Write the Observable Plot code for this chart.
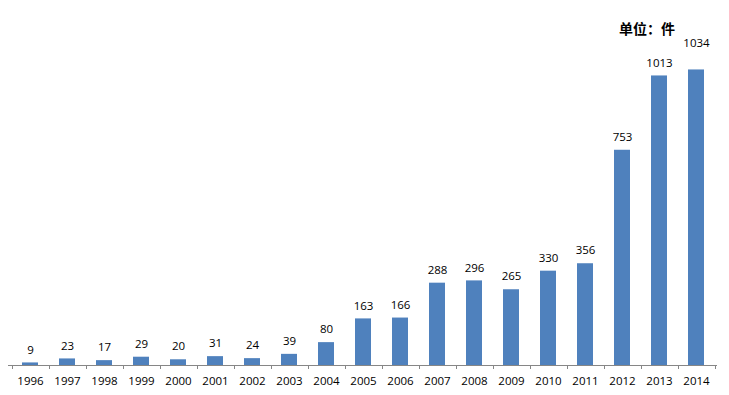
<!DOCTYPE html>
<html>
<head>
<meta charset="utf-8">
<script src="https://cdn.jsdelivr.net/npm/d3@7"></script>
<script src="https://cdn.jsdelivr.net/npm/@observablehq/plot@0.6"></script>
<style>
  html, body { margin: 0; padding: 0; background: #fff; }
  #chart { position: relative; width: 729px; height: 395px; }
  #unit { position: absolute; left: 619px; top: 18px; font: bold 14px "Noto Sans CJK SC", sans-serif; color: #000; }
</style>
</head>
<body>
<div id="chart"><div id="unit">单位：件</div></div>
<script>
const years = ["1996","1997","1998","1999","2000","2001","2002","2003","2004","2005","2006","2007","2008","2009","2010","2011","2012","2013","2014"];
const counts = [9,23,17,29,20,31,24,39,80,163,166,288,296,265,330,356,753,1013,1034];
const yDomain = [0, 1200];

const data = years.map((y, i) => ({year: y, value: counts[i]}));
const last = years[years.length - 1];

const chart = Plot.plot({
  width: 729,
  height: 395,
  marginLeft: 8,
  marginRight: 12,
  marginTop: 22,
  marginBottom: 30,
  style: {fontFamily: "'Open Sans', sans-serif", fontSize: "11px", color: "#000", background: "#fff"},
  x: {domain: years, paddingInner: 0.57, paddingOuter: 0.285, axis: null},
  y: {domain: yDomain, axis: null},
  marks: [
    Plot.barY(data, {x: "year", y: "value", fill: "#4F81BD"}),
    Plot.ruleY([0], {stroke: "#868686", strokeWidth: 1}),
    Plot.text(data.filter(d => d.year !== last), {x: "year", y: "value", text: d => String(d.value), dy: -13, fill: "#000", fontSize: 11.5}),
    Plot.text(data.filter(d => d.year === last), {x: "year", y: "value", text: d => String(d.value), dy: -27, fill: "#000", fontSize: 11.5}),
    Plot.axisX({tickSize: 0, tickPadding: 11, fontSize: 11.5, fill: "#000", label: null})
  ]
});

// boundary ticks between categories, placed from the x scale
const xs = chart.scale("x");
const ys = chart.scale("y");
const step = xs.step;
const y0 = ys.apply(0);
const bounds = years.map(y => xs.apply(y) + xs.bandwidth / 2 - step / 2);
bounds.push(xs.apply(last) + xs.bandwidth / 2 + step / 2);
d3.select(chart).append("g")
  .attr("stroke", "#868686")
  .selectAll("line")
  .data(bounds)
  .join("line")
  .attr("x1", d => Math.round(d) + 0.5)
  .attr("x2", d => Math.round(d) + 0.5)
  .attr("y1", y0)
  .attr("y2", y0 + 4);

document.getElementById("chart").prepend(chart);
</script>
</body>
</html>
